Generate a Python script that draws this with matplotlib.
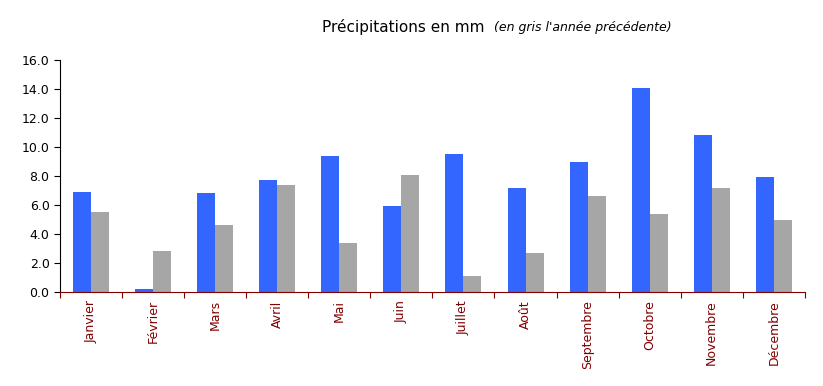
import numpy as np
import matplotlib.pyplot as plt

months = ["Janvier", "Février", "Mars", "Avril", "Mai", "Juin", "Juillet",
          "Août", "Septembre", "Octobre", "Novembre", "Décembre"]
current = [6.9, 0.2, 6.8, 7.7, 9.4, 5.9, 9.5, 7.2, 9.0, 14.1, 10.8, 7.9]
previous = [5.5, 2.8, 4.6, 7.4, 3.4, 8.1, 1.1, 2.7, 6.6, 5.4, 7.2, 5.0]
yticks = [0, 2, 4, 6, 8, 10, 12, 14, 16]

dark_red = "#800000"

fig = plt.figure(figsize=(8.23, 3.86), dpi=100)
ax = fig.add_axes([0.0729, 0.2435, 0.905, 0.601])

x = np.arange(len(months))
w = 0.29
ax.bar(x - w / 2, current, width=w, color="#3366FF")
ax.bar(x + w / 2, previous, width=w, color="#A6A6A6")

ax.set_xlim(-0.5, len(months) - 0.5)
ax.set_ylim(0, 16)
ax.set_yticks(yticks)
ax.set_yticklabels(["%.1f" % v for v in yticks], fontsize=9)

# ticks at the category boundaries, labels at centres
ax.set_xticks(np.arange(len(months) + 1) - 0.5)
ax.set_xticklabels([])
ax.set_xticks(x, minor=True)
ax.set_xticklabels(months, minor=True, rotation=90, color=dark_red, fontsize=9)
ax.tick_params(axis="x", which="minor", length=0, pad=6)
ax.tick_params(axis="x", which="major", length=4, color=dark_red)
ax.tick_params(axis="y", length=4)

for side in ["top", "right"]:
    ax.spines[side].set_visible(False)
ax.spines["bottom"].set_color(dark_red)

fig.text(322 / 823, 1 - 27 / 386, "Précipitations en mm", fontsize=11,
         ha="left", va="center")
fig.text(494 / 823, 1 - 28 / 386, "(en gris l'année précédente)", fontsize=9,
         style="italic", ha="left", va="center")

fig.savefig("out.png", dpi=100)
